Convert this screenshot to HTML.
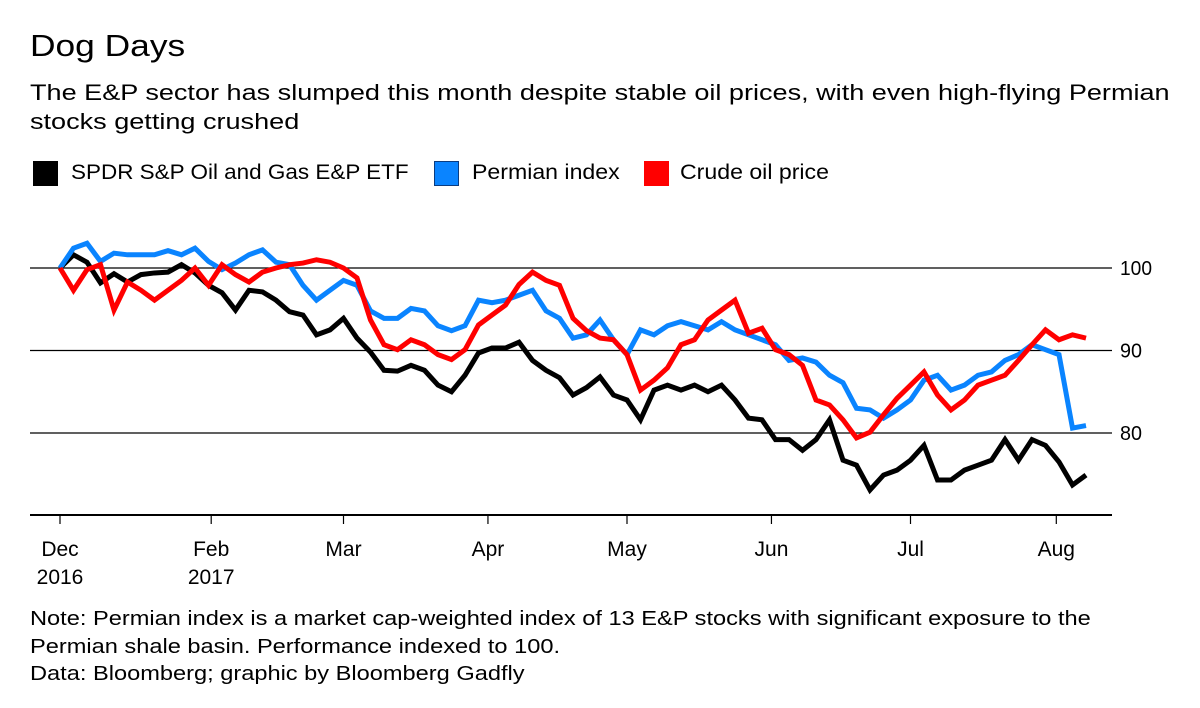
<!DOCTYPE html>
<html><head><meta charset="utf-8"><style>
body{margin:0;width:1200px;height:708px;background:#fff;font-family:"Liberation Sans",sans-serif;color:#000;overflow:hidden}
.t{position:absolute;white-space:nowrap;transform-origin:0 0}
</style></head><body>
<div class="t" style="left:30px;top:28px;font-size:31px;transform:scaleX(1.14)">Dog Days</div>
<div class="t" style="left:30px;top:78px;font-size:22px;line-height:29px;transform:scaleX(1.23)">The E&amp;P sector has slumped this month despite stable oil prices, with even high-flying Permian<br>stocks getting crushed</div>
<div>
<div style="position:absolute;left:33px;top:161px;width:25px;height:25px;background:#000"></div>
<div class="t" style="left:71px;top:161px;font-size:21px;transform:scaleX(1.07)">SPDR S&amp;P Oil and Gas E&amp;P ETF</div>
<div style="position:absolute;left:434px;top:161px;width:23px;height:23px;background:#0a84ff;border:1px solid #0b3c80"></div>
<div class="t" style="left:472px;top:161px;font-size:21px;transform:scaleX(1.1)">Permian index</div>
<div style="position:absolute;left:644px;top:161px;width:25px;height:25px;background:#f00"></div>
<div class="t" style="left:680px;top:161px;font-size:21px;transform:scaleX(1.1)">Crude oil price</div>
</div>
<svg id="chart" width="1200" height="708" style="position:absolute;left:0;top:0"></svg>
<div class="t" style="left:30px;top:606px;font-size:20px;line-height:27.5px;transform:scaleX(1.18)">Note: Permian index is a market cap-weighted index of 13 E&amp;P stocks with significant exposure to the<br>Permian shale basin. Performance indexed to 100.<br>Data: Bloomberg; graphic by Bloomberg Gadfly</div>
<script>
const etf=[100,101.6,100.7,98.2,99.3,98.3,99.2,99.4,99.5,100.4,99.4,97.9,97.0,94.9,97.3,97.1,96.1,94.7,94.3,91.9,92.5,93.9,91.5,89.8,87.6,87.5,88.2,87.6,85.8,85.0,87.0,89.7,90.3,90.3,91.0,88.8,87.6,86.7,84.6,85.5,86.8,84.6,84.0,81.6,85.2,85.8,85.2,85.8,85.0,85.8,84.0,81.8,81.6,79.2,79.2,77.9,79.2,81.6,76.7,76.1,73.1,74.9,75.5,76.7,78.5,74.3,74.3,75.5,76.1,76.7,79.2,76.7,79.2,78.5,76.5,73.7,74.9];
const permian=[100,102.4,103.0,100.8,101.8,101.6,101.6,101.6,102.1,101.6,102.4,100.8,99.8,100.6,101.6,102.2,100.7,100.4,97.9,96.1,97.3,98.5,97.9,94.8,93.9,93.9,95.1,94.8,93.0,92.4,93.0,96.1,95.8,96.1,96.7,97.3,94.8,93.9,91.5,91.9,93.7,91.3,89.5,92.5,91.9,93.0,93.5,93.0,92.5,93.5,92.5,91.9,91.3,90.7,88.8,89.1,88.6,87.0,86.1,83.0,82.8,81.8,82.8,84.0,86.4,87.0,85.2,85.8,87.0,87.4,88.8,89.5,90.7,90.1,89.5,80.6,80.9];
const crude=[100,97.3,99.8,100.4,94.9,98.3,97.3,96.1,97.3,98.5,100,97.9,100.4,99.2,98.3,99.5,100,100.4,100.6,101.0,100.7,100,98.8,93.7,90.7,90.1,91.3,90.7,89.5,88.9,90.1,93.1,94.3,95.5,98.0,99.5,98.5,97.9,93.9,92.4,91.5,91.3,89.5,85.2,86.4,87.9,90.7,91.3,93.7,94.9,96.1,92.1,92.7,90.1,89.5,88.2,84.0,83.4,81.6,79.4,80.1,82.2,84.2,85.8,87.4,84.6,82.8,84.0,85.8,86.4,87.0,88.8,90.7,92.5,91.3,91.9,91.5];
const yTicks=[80,90,100];
const monthLabels=["Dec","Feb","Mar","Apr","May","Jun","Jul","Aug"];
const yearLabels=["2016","2017","","","","","",""];
const monthPos=[0,11.2,21.0,31.7,42.0,52.7,63.0,73.8];
const svg=document.getElementById('chart');const NS='http://www.w3.org/2000/svg';
const X=i=>60+i*(1026/76);
const Y=v=>268+(100-v)*8.25;
function mk(t,a){const e=document.createElementNS(NS,t);for(const k in a)e.setAttribute(k,a[k]);svg.appendChild(e);return e;}
yTicks.forEach(v=>{
 const l=mk('line',{x1:30,x2:1112,y1:Y(v),y2:Y(v),stroke:'#000','stroke-width':1.3});
 
 
 const t=mk('text',{x:1120,y:Y(v)+7,'font-size':20,'font-family':'Liberation Sans, sans-serif',textLength:32,lengthAdjust:'spacingAndGlyphs'});t.textContent=v;
 if(v<100)t.setAttribute('textLength',22);
 
 
});
const ax=mk('line',{x1:30,x2:1112,y1:515,y2:515,stroke:'#000','stroke-width':2});


monthLabels.forEach((m,i)=>{
 const x=X(monthPos[i]);
 const tk=mk('line',{x1:x,x2:x,y1:515,y2:524,stroke:'#000','stroke-width':1.2});
 
 
 const t=mk('text',{x:x,y:556,'font-size':21,'text-anchor':'middle','font-family':'Liberation Sans, sans-serif'});t.textContent=m;
 
 
 if(yearLabels[i]){const y=mk('text',{x:x,y:584,'font-size':21,'text-anchor':'middle','font-family':'Liberation Sans, sans-serif'});y.textContent=yearLabels[i];
 
 }
});
[[etf,'#000','etf-line'],[permian,'#0a84ff','permian-line'],[crude,'#f00','crude-line']].forEach(([d,c,n])=>{
 const p=mk('polyline',{points:d.map((v,i)=>X(i)+','+Y(v)).join(' '),fill:'none',stroke:c,'stroke-width':5,'stroke-linejoin':'miter','stroke-miterlimit':3});
 
 
});
</script>
</body></html>
